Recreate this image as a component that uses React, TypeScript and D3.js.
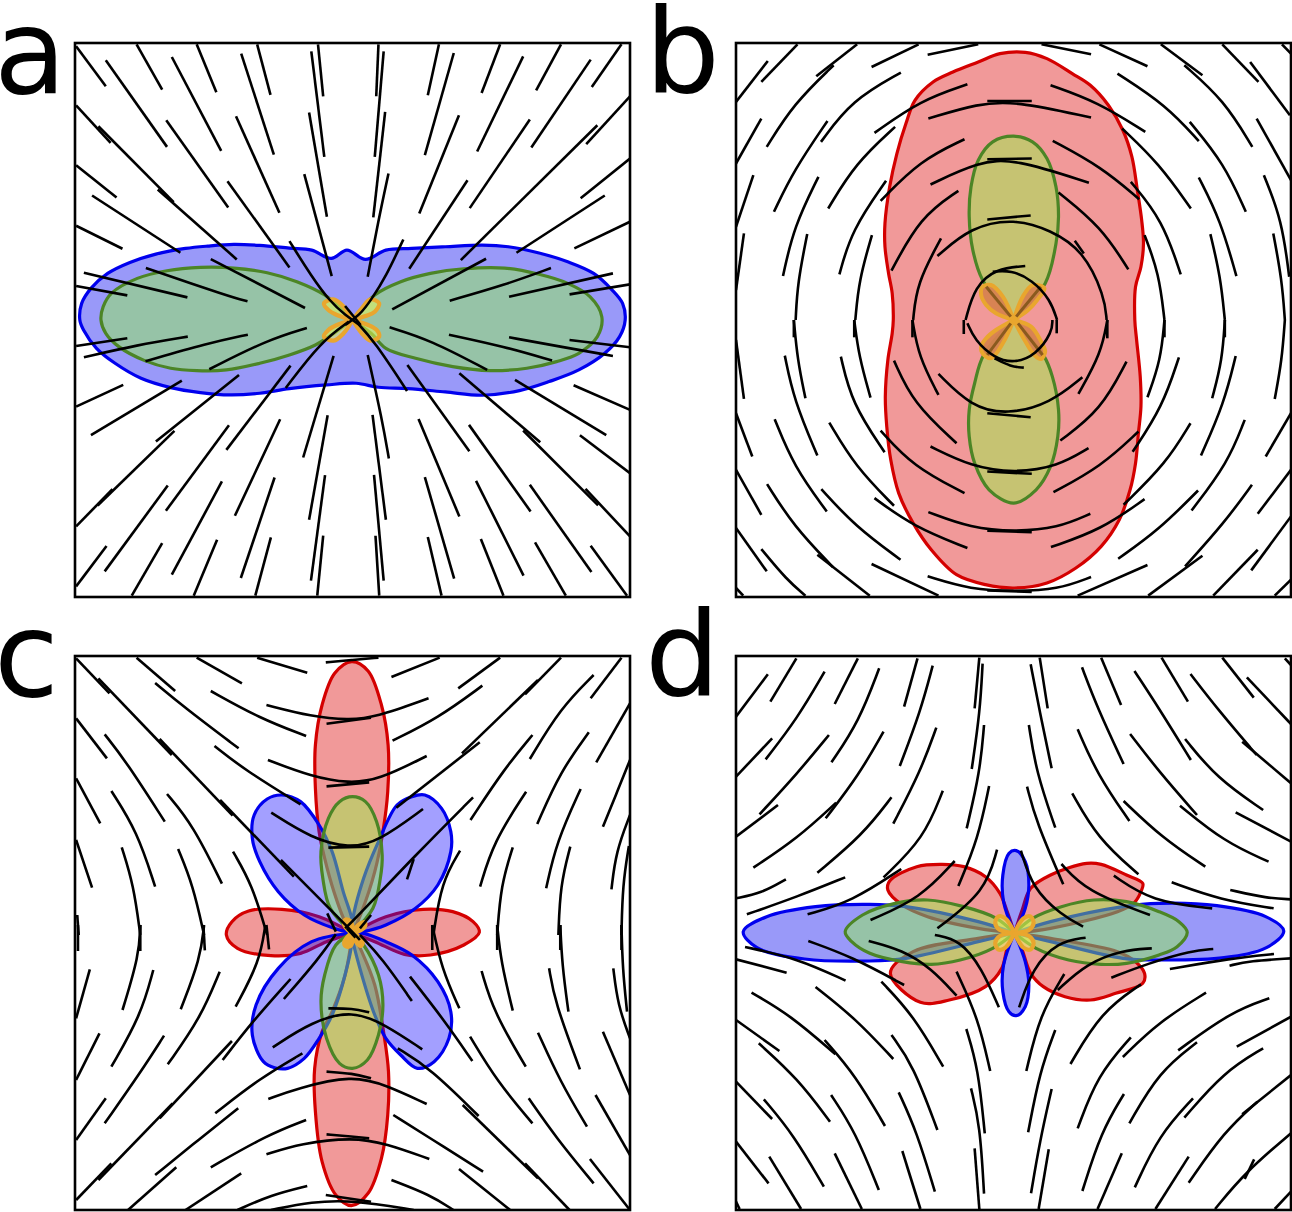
import React from 'react';
import * as d3 from 'd3';

// readings are in crop units, bottom crop lists get their offset added below
const aLinesTop = [
  [45,48,125,168],[208,42,277,178],[370,42,423,186],[533,42,569,194],[697,42,711,198],[860,42,854,198],[1023,42,993,195],[1188,42,1138,188],[1352,42,1285,180],[1515,42,1435,170],
  [125,90,290,350],[303,80,436,362],[490,70,578,373],[679,63,714,380],[874,63,850,380],[1063,68,985,375],[1250,78,1126,364],[1432,88,1272,352],
  [45,225,138,338],[105,288,308,516],[265,478,478,688],[288,270,455,532],[476,258,593,548],[673,247,721,560],[878,245,846,562],[1077,255,970,550],[1268,268,1106,534],[1538,198,1420,342],[1450,285,1082,690],
  [45,405,154,502],[88,496,326,668],[453,453,620,712],[660,432,734,738],[887,430,860,570,831,740],[1100,450,943,716],[1470,496,1232,668],[1538,385,1405,504],[45,587,170,656],[1538,575,1388,655],
  [620,633,680,740,730,815,770,855,810,885],[927,628,880,740,840,810,810,855,770,885],[408,687,662,834],[233,714,460,800,507,814],[66,728,345,802],[45,768,183,796],[897,838,1150,686],[1052,812,1200,765,1325,714],[1212,800,1492,730],[1375,793,1538,763],[770,828,812,885],
];
const aLinesBottom = [
  [45,78,183,55],[66,112,210,75,346,50],[232,124,400,70,508,44],[404,148,560,60,667,24],[610,204,705,65,780,5],[937,213,850,65,800,5],[890,22,1000,60,1153,150],[1050,44,1200,80,1328,122],[1212,52,1350,80,1492,108],[1375,60,1538,82],
  [172,195,45,260],[330,182,85,346],[484,165,260,365],[310,333,103,557],[143,508,45,620],[623,137,450,390],[739,108,657,413],[831,105,870,300,888,416],[938,135,1105,394],[1078,160,1296,367],[1250,332,1452,557],[1418,507,1538,650],[1228,180,1474,346],[1386,196,1538,270],[1403,346,1538,460],
  [457,316,287,573],[595,298,473,588],[723,286,673,600],[844,285,880,600],[968,297,1078,590],[1104,315,1270,575],
  [292,497,122,755],[438,485,303,765],[580,473,489,775],[716,466,678,783],[848,465,874,783],[985,472,1064,777],[1123,483,1251,768],[1268,495,1434,757],
  [127,679,45,800],[277,670,195,828],[425,660,362,828],[570,653,528,828],[711,648,695,828],[852,648,862,828],[993,652,1030,828],[1136,658,1197,828],[1282,668,1365,828],[1432,678,1530,828],
];
const aBlue = [[55,870,60,820,85,775,130,730,190,697,260,672,340,655,400,648,470,643,540,646,620,654,680,660,733,685,775,660,825,688,880,660,950,655,1040,650,1140,645,1210,650,1290,668,1370,695,1440,730,1490,780,1518,820,1525,870,1510,920,1470,970,1400,1020,1320,1055,1240,1082,1140,1096,1040,1086,940,1076,860,1072,800,1060,720,1065,620,1076,540,1090,460,1095,380,1088,300,1073,220,1045,150,1000,100,955,65,900]];
const aGreen = [
  [790,870,715,795,640,755,560,728,470,714,380,712,290,722,210,745,140,790,118,830,112,870,125,910,160,950,230,992,300,1015,370,1022,450,1020,540,1000,620,975,690,945,740,910],
  [790,870,850,795,920,755,1000,730,1090,716,1200,714,1290,732,1370,760,1430,800,1462,860,1450,920,1400,970,1340,995,1260,1015,1160,1022,1060,1010,960,985,880,955,840,910],
];
const aOrange = [
  [790,870,766,830,739,808,713,820,725,840,748,855],
  [790,870,815,835,838,808,862,820,850,845,825,858],
  [790,870,748,885,725,900,713,920,739,932,766,910],
  [790,870,832,885,855,900,862,920,838,932,815,910],
];

const bLinesTop = [
  [30,215,118,92],[100,155,200,42],[115,350,190,220,300,105],[252,138,365,42],[405,110,535,42],[560,73,700,42],[875,42,1012,72],[1035,42,1168,108],[1205,42,1320,135],[1270,105,1380,210,1458,350],[1375,42,1475,155],[1452,95,1562,255],[1540,42,1565,70],
  [1085,130,1220,225,1310,333],[900,165,1030,215,1162,305],[725,212,848,212],[562,265,700,220,800,212,1012,262],[670,162,540,210,413,308],[486,127,350,210,265,335],[30,400,100,265],[135,545,190,420,283,272],[285,535,360,400,470,290],[1098,295,1200,400,1288,535],[1285,275,1380,400,1440,545],[1470,265,1565,450],
  [30,590,78,435],[160,738,190,590,258,440],[316,733,350,600,445,452],[662,327,540,390,430,512],[568,463,700,395,800,385,1006,458],[725,387,848,385],[906,332,1040,410,1145,507],[1122,455,1210,570,1260,733],[1310,442,1370,570,1414,738],[1490,435,1540,570,1560,740],
  [30,780,52,610],[195,870,200,760,227,612],[360,870,370,750,406,615],[520,870,530,760,597,625],[645,482,540,560,460,722],[725,568,845,556],[587,678,680,590,800,565,900,600,990,660,1050,800,1055,870],[967,632,992,670],[922,487,1040,590,1115,718],[1160,615,1200,730,1215,870],[1342,612,1370,740,1382,870],[1516,610,1540,750,1548,870],
  [830,708,750,715,690,770,665,870],[740,725,790,720,850,750,900,810,918,870],
];
const bLinesBottom = [
  [660,0,660,42],[917,0,917,40],[670,10,690,60,745,115,800,130,860,105,905,35,905,0],[745,115,790,140,826,143],
  [190,0,200,120,222,235],[357,0,370,110,402,233],[518,0,535,110,590,225],[1057,0,1040,100,977,222],[1215,0,1205,120,1168,232],[1382,0,1375,120,1347,235],[1548,0,1540,120,1520,237],[30,60,52,237],
  [190,0,190,52],[357,0,357,52],[518,0,518,52],[1057,0,1057,55],[1215,0,1215,52],[1382,0,1382,52],
  [165,107,190,240,255,407],[320,110,350,250,441,397],[467,122,520,250,640,370],[590,162,680,260,780,285,900,250,988,172],[725,280,845,292],[1110,125,1040,270,927,362],[1255,112,1210,260,1127,396],[1412,108,1380,250,1316,407],[30,280,75,410],
  [137,298,190,440,281,575],[288,308,360,440,467,558],[430,332,520,440,662,520],[568,380,680,440,800,460,920,440,1005,385],[725,455,848,462],[908,517,1040,440,1143,335],[1287,310,1220,430,1102,555],[1437,300,1390,430,1290,572],[1565,280,1495,410],
  [30,450,100,585],[116,493,190,620,298,742],[266,508,360,620,485,720],[413,535,520,620,670,685],[562,577,680,625,800,636,920,625,1010,582],[725,633,848,637],[901,682,1040,630,1160,538],[1308,512,1200,630,1087,717],[1457,495,1380,610,1272,740],[1565,450,1473,582],
  [30,625,115,755],[100,688,170,780,222,828],[255,705,400,828],[405,733,590,828],[560,770,680,810,800,815,920,810,1012,772],[725,812,848,817],[975,828,1168,736],[1170,828,1320,708],[1350,828,1473,690],[1455,752,1565,590],[1520,828,1565,780],[30,805,50,828],
];
const bRed = [[465,870,462,790,452,730,442,650,442,580,455,470,475,370,500,280,525,210,575,155,630,125,700,95,760,70,830,66,890,85,960,130,1010,165,1060,225,1100,300,1125,380,1140,480,1152,570,1157,640,1150,710,1135,770,1133,870,1138,930,1148,1040,1150,1130,1143,1210,1135,1300,1120,1380,1090,1470,1040,1550,970,1615,890,1660,800,1675,720,1665,640,1635,570,1560,520,1480,480,1390,458,1290,447,1190,443,1100,450,990,462,910]];
const bGreen = [
  [798,870,712,750,685,660,675,560,680,470,700,390,740,335,798,318,850,335,890,385,915,470,922,560,915,640,885,760],
  [798,870,715,975,690,1060,675,1140,675,1220,690,1300,730,1380,798,1420,860,1380,900,1310,920,1220,922,1140,905,1040,880,975],
];
const bOrange = [
  [798,870,768,800,735,765,712,770,708,795,722,825,749,850],
  [798,870,823,800,850,765,883,775,863,810,838,840],
  [798,870,749,900,722,925,708,950,712,970,735,985,768,940],
  [798,870,846,890,874,935,885,965,874,987,855,975,828,930],
];
const bInner = [[722,770,790,860],[873,770,805,860],[725,975,790,880],[878,975,810,880]];

const cLinesTop = [
  [45,40,135,145],[105,100,303,330],[270,282,467,512],[433,465,632,695],[597,645,790,860,810,885],
  [208,38,312,138],[370,38,492,115],[533,38,668,83],[718,52,790,45,860,38],[1025,38,895,96],[1188,38,1075,130],[1352,38,1255,148],[1515,38,1432,160],
  [258,114,340,190,483,310],[408,138,540,220,665,273],[558,180,680,215,780,225,850,218,995,160],[720,236,840,218],[898,287,1020,220,1140,122],[1440,90,1350,190,1268,342],[1538,175,1447,352],[1538,345,1500,450,1465,545],[1290,105,1085,325],[1133,292,908,488],
  [45,220,128,340],[122,268,180,350,284,530],[418,303,500,375,650,478],[562,345,680,395,780,415,860,405,990,333],[720,424,835,412],[1275,270,1200,370,1108,525],[1427,262,1350,380,1288,537],
  [45,400,110,535],[140,438,210,560,258,725],[290,447,360,540,438,716],[571,503,680,580,780,610,860,590,980,492],[725,608,835,605],[1115,457,960,630,790,830,770,850],[955,642,937,703],[1258,440,1170,590,1134,725],[1405,432,1340,590,1312,730],[1538,510,1500,620,1488,733],[1535,603,1518,720,1515,870],
  [45,585,88,728],[168,607,200,720,218,870],[320,612,360,720,390,870],[468,620,520,720,560,870],[1080,617,1030,710,1008,870],[1222,607,1190,720,1180,870],[1377,605,1350,720,1345,870],[48,810,52,870],[722,805,745,860],[840,810,810,850],
];
const cLinesBottom = [
  [50,0,50,78],[218,0,218,78],[388,0,392,76],[558,0,565,73],[1005,0,1005,75],[1180,0,1180,75],[1350,0,1350,75],[1515,0,1515,75],
  [218,0,215,90,170,255],[390,0,380,100,327,253],[555,0,540,110,475,245],[1005,0,1030,130,1078,250],[1180,0,1190,110,1222,257],[1350,0,1355,120,1372,260],[1515,0,1518,130,1530,260],[45,280,82,133],
  [745,28,700,100,605,222],[775,10,798,38],[623,162,520,290,440,405],[465,348,270,580],[305,535,105,765],[140,715,45,825],[810,30,870,100,950,228],[945,155,1040,290,1113,408],[912,370,1000,430,1130,573],[1087,540,1290,760],[1255,715,1375,855],
  [725,250,790,250,835,262],[575,367,680,290,790,255,880,300,978,373],[655,385,540,460,420,565],[720,440,790,445,840,460],[563,522,640,490,790,450,880,480,990,537],[482,550,380,640,258,750],[665,585,560,630,408,727],[720,628,790,635,835,640],[558,688,650,655,790,637,880,655,997,702],[315,727,185,855],[490,745,340,855],[668,783,570,810,480,855],[718,810,840,830],[570,855,680,830,790,825,955,855],
  [900,570,1000,640,1142,740],[895,765,1000,810,1062,855],[1077,732,1215,855],[1265,520,1340,640,1440,775],[1430,702,1538,855],[1445,510,1538,690],[1290,323,1350,470,1422,605],[1107,335,1180,470,1275,595],[1138,138,1170,260,1257,425],[1320,130,1335,230,1403,433],[1465,320,1538,510],[1493,130,1505,240,1538,340],
  [282,332,220,440,122,595],[108,325,45,465],[253,135,220,270,140,425],[432,140,380,280,292,418],[125,520,45,645],
];
const cRed = [
  [790,864,770,830,740,740,715,640,700,560,690,430,690,300,708,180,742,85,788,50,832,78,868,180,886,300,885,440,872,560,850,680,815,800],
  [790,864,770,990,735,1100,708,1160,688,1270,690,1400,708,1550,745,1650,787,1682,832,1645,868,1540,885,1410,887,1280,875,1170,850,1020,815,920],
  [790,864,700,815,600,793,510,798,465,830,450,870,480,910,570,932,650,925,720,890],
  [790,864,880,815,980,793,1060,800,1115,830,1132,862,1090,900,1000,930,930,928,850,890],
];
const cBlue = [
  [790,864,740,850,660,810,590,740,540,650,520,580,525,510,560,462,600,450,650,470,700,540,735,620,765,740,790,830],
  [790,864,790,830,820,700,860,590,910,480,950,455,985,450,1030,490,1055,560,1055,620,1020,720,960,790,880,840,820,860],
  [790,864,680,890,590,970,530,1080,520,1170,550,1250,580,1268,615,1270,660,1240,700,1180,735,1110,770,990,790,880],
  [790,864,790,880,810,970,850,1110,880,1180,920,1230,965,1270,1010,1250,1050,1180,1055,1100,1020,1010,950,930,880,890,820,865],
];
const cGreen = [
  [790,864,730,790,710,700,705,620,725,520,755,470,790,455,825,470,855,530,870,630,865,700,845,790],
  [790,864,745,900,715,990,705,1070,720,1180,755,1255,790,1270,830,1245,860,1170,872,1080,860,990,820,900],
];
const cOrange = [
  [790,864,770,840,772,826,784,832],
  [790,864,812,838,822,834,820,846],
  [790,864,770,892,774,902,784,900],
  [790,864,802,890,812,900,815,890],
];

const dLinesTop = [
  [30,215,118,88],[125,170,197,40],[303,177,367,40],[495,185,532,40],[690,190,703,38],[870,38,892,190],[1040,38,1095,180],[1207,38,1280,170],[1375,38,1462,158],[1548,40,1565,60],[1443,97,1565,237],
  [1287,87,1360,190,1470,330],[1430,290,1565,415],[1132,78,1200,190,1288,345],[987,67,1030,190,1102,357],[845,58,870,200,903,370],[712,56,705,200,682,372],[574,62,540,200,483,363],[426,70,370,230,294,352],[275,80,200,220,112,343],
  [30,395,130,280],[287,270,200,385,95,508],[146,480,30,575],[438,260,370,390,278,520],[307,473,200,580,78,668],[584,248,540,380,465,536],[460,457,380,570,255,683],[716,240,705,380,668,550],[840,240,860,380,913,548],[975,253,1030,390,1118,528],[1120,267,1200,380,1305,510],[1272,282,1360,400,1488,495],[1258,482,1380,590,1503,650],[1412,502,1565,590],[1102,468,1210,580,1328,665],[960,445,1030,580,1143,688],[835,425,860,530,935,718],[730,423,700,580,645,723],[602,437,550,580,438,697],
  [30,760,100,745,168,703],[60,808,200,755,332,697],[228,808,350,770,487,672],[635,648,540,760,402,825],[752,614,720,740,587,850],[818,617,850,730,930,810,990,845],[930,657,1000,740,1175,810],[1075,692,1180,770,1347,790],[1235,712,1370,765,1517,790],[1397,735,1500,760,1565,763],
];
const dLinesBottom = [
  [580,30,650,45,710,130,757,247],[997,38,920,50,850,130,813,247],[397,48,490,75,570,130,640,212],[230,48,350,95,495,180],[55,66,200,100,333,167],[30,103,170,143],[1180,70,1100,75,1000,115,920,195],[1350,72,1290,77,1170,115,1068,158],[1518,87,1400,100,1230,132],[1395,122,1450,108,1565,100],
  [640,140,700,280,733,438],[938,147,870,270,833,438],[432,170,520,270,603,425],[1150,178,1040,260,955,417],[250,186,360,280,465,402],[1330,203,1200,290,1100,396],[73,203,180,270,305,388],[275,345,360,450,442,603],[1505,220,1400,260,1253,376],[1565,275,1415,365],[30,285,150,378],[93,355,200,460,290,590],[460,330,520,420,587,615],[667,312,700,430,718,625],[913,315,870,440,838,622],[1122,337,1030,450,975,610],[1305,352,1200,440,1118,595],[1488,370,1380,440,1270,578],[1565,450,1430,568],
  [1472,530,1380,620,1282,773],[1294,520,1200,630,1133,787],[1103,507,1040,620,988,798],[903,492,870,650,846,805],[680,490,705,600,716,806],[480,502,530,620,580,800],[293,510,360,620,425,795],[107,523,190,630,273,785],[30,470,130,582],[30,650,120,775],
  [122,695,210,852],[303,685,378,852],[490,678,540,852],[690,670,703,852],[895,673,867,852],[1097,685,1030,852],[1282,695,1190,852],[1463,703,1437,762],[1565,625,1440,740,1355,852],[1565,800,1520,852],[30,830,40,852],
];
const dRed = [
  [800,864,780,800,760,745,720,695,660,665,600,658,530,665,455,708,450,735,490,780,560,815,700,850],
  [800,864,820,800,845,730,900,690,1000,655,1040,658,1110,690,1155,715,1150,740,1130,775,1085,800,900,850],
  [800,864,700,880,520,920,457,985,540,1072,620,1065,720,1025,765,970,780,910],
  [800,864,820,910,845,985,880,1025,940,1055,1010,1065,1080,1045,1155,1015,1160,985,1135,950,1085,920,900,880],
];
const dBlue = [
  [800,864,700,830,500,785,400,778,250,785,115,815,50,860,88,908,220,942,400,948,500,940,700,890],
  [800,864,900,830,1100,785,1200,775,1360,782,1495,815,1545,858,1497,908,1380,938,1200,945,1100,940,900,890],
  [800,864,770,770,768,690,785,625,805,617,830,650,840,720,830,790],
  [800,864,770,960,768,1040,785,1100,805,1112,830,1085,840,1020,830,950],
];
const dGreen = [
  [800,864,750,820,660,785,560,765,470,775,380,810,332,860,350,890,400,925,490,950,570,958,650,945,740,910],
  [800,864,850,820,930,785,1020,765,1110,770,1200,800,1255,830,1278,862,1250,905,1200,930,1110,955,1040,958,950,945,860,910],
];
const dOrange = [
  [800,864,775,820,755,815,747,835,760,855],
  [800,864,825,820,845,815,853,835,840,855],
  [800,864,760,873,747,893,755,913,775,908],
  [800,864,840,873,853,893,845,913,825,908],
];

const panelLetters = ['a', 'b', 'c', 'd'];

const pairs = (flat: number[]) => d3.range(0, flat.length, 2).map(i => [flat[i], flat[i + 1]] as [number, number]);
const shift = (lines: number[][], dy: number) => lines.map(l => l.map((v, i) => (i % 2 ? v + dy : v)));

const RED = { stroke: '#d40000', fill: '#dc0000', op: 0.4 };
const BLUE = { stroke: '#0000ee', fill: '#0000f0', op: 0.4 };
const GREEN = { stroke: '#4c8526', fill: '#93f742', op: 0.45 };

const Panel = ({ id, left, top, xd, yd, layers, lines, inner }: any) => {
  const size = 555;
  const x = d3.scaleLinear().domain(xd).range([left, left + size]);
  const y = d3.scaleLinear().domain(yd).range([top, top + size - 1]);
  const smooth = d3.line<[number, number]>().x(d => x(d[0])).y(d => y(d[1])).curve(d3.curveCatmullRom.alpha(0.5));
  const closed = d3.line<[number, number]>().x(d => x(d[0])).y(d => y(d[1])).curve(d3.curveCatmullRomClosed.alpha(0.5));
  const stream = d3.line<[number, number]>().x(d => x(d[0])).y(d => y(d[1])).curve(d3.curveBasis);
  return (
    <g>
      <clipPath id={id}>
        <rect x={left} y={top} width={size} height={size - 1} />
      </clipPath>
      <g clipPath={`url(#${id})`}>
        {layers.map((layer: any, i: number) =>
          layer.shapes.map((s: number[], j: number) => {
            const pts = pairs(s);
            const d = layer.round ? closed(pts) : smooth([...pts, pts[0]]) + 'Z';
            return (
              <path key={`${i}-${j}`} d={d!} fill={layer.fill} fillOpacity={layer.op} stroke={layer.stroke} strokeWidth={layer.width ?? 3.2} strokeLinejoin="round" />
            );
          })
        )}
        {(inner ?? []).map((s: number[], i: number) => (
          <path key={i} d={smooth(pairs(s))!} fill="none" stroke="#8a5a1e" strokeWidth={3} />
        ))}
        {lines.map((l: number[], i: number) => (
          <path key={i} d={stream(pairs(l))!} fill="none" stroke="#000" strokeWidth={2.6} />
        ))}
      </g>
      <rect x={left} y={top} width={size} height={size - 1} fill="none" stroke="#000" strokeWidth={2.6} />
    </g>
  );
};

export default function App() {
  const orange = '#e9a62e';
  return (
    <svg width={1292} height={1212} style={{ position: 'absolute', left: 0, top: 0, background: '#fff' }}>
      <Panel id="pa" left={75} top={43} xd={[42, 1538]} yd={[38, 1702]}
        lines={[...aLinesTop, ...shift(aLinesBottom, 870)]}
        layers={[
          { ...BLUE, shapes: aBlue, round: true },
          { ...GREEN, shapes: aGreen },
          { stroke: orange, fill: '#e6f55a', op: 0.55, width: 4.2, shapes: aOrange },
        ]} />
      <Panel id="pb" left={736} top={43} xd={[30, 1565]} yd={[38, 1702]}
        lines={[...bLinesTop, ...shift(bLinesBottom, 870)]}
        inner={bInner}
        layers={[
          { ...RED, shapes: bRed, round: true },
          { ...GREEN, shapes: bGreen },
          { stroke: orange, fill: '#d6824f', op: 0.95, width: 4, shapes: bOrange },
        ]} />
      <Panel id="pc" left={75} top={656} xd={[42, 1538]} yd={[33, 1695]}
        lines={[...cLinesTop, ...shift(cLinesBottom, 840)]}
        layers={[
          { ...RED, shapes: cRed },
          { ...BLUE, fill: '#1a10ff', shapes: cBlue },
          { ...GREEN, shapes: cGreen },
          { stroke: orange, fill: orange, op: 1, width: 6, shapes: cOrange },
        ]} />
      <Panel id="pd" left={736} top={656} xd={[30, 1565]} yd={[33, 1695]}
        lines={[...dLinesTop, ...shift(dLinesBottom, 840)]}
        layers={[
          { ...RED, shapes: dRed },
          { ...BLUE, shapes: dBlue },
          { ...GREEN, shapes: dGreen },
          { stroke: orange, fill: '#e6f55a', op: 0.55, width: 4.2, shapes: dOrange },
        ]} />
      {panelLetters.map((t, i) => (
        <text key={t} x={i % 2 ? 645 : -6} y={i < 2 ? 93 : 696} fontFamily="DejaVu Sans" fontSize={118} fill="#000">
          {t}
        </text>
      ))}
    </svg>
  );
}
